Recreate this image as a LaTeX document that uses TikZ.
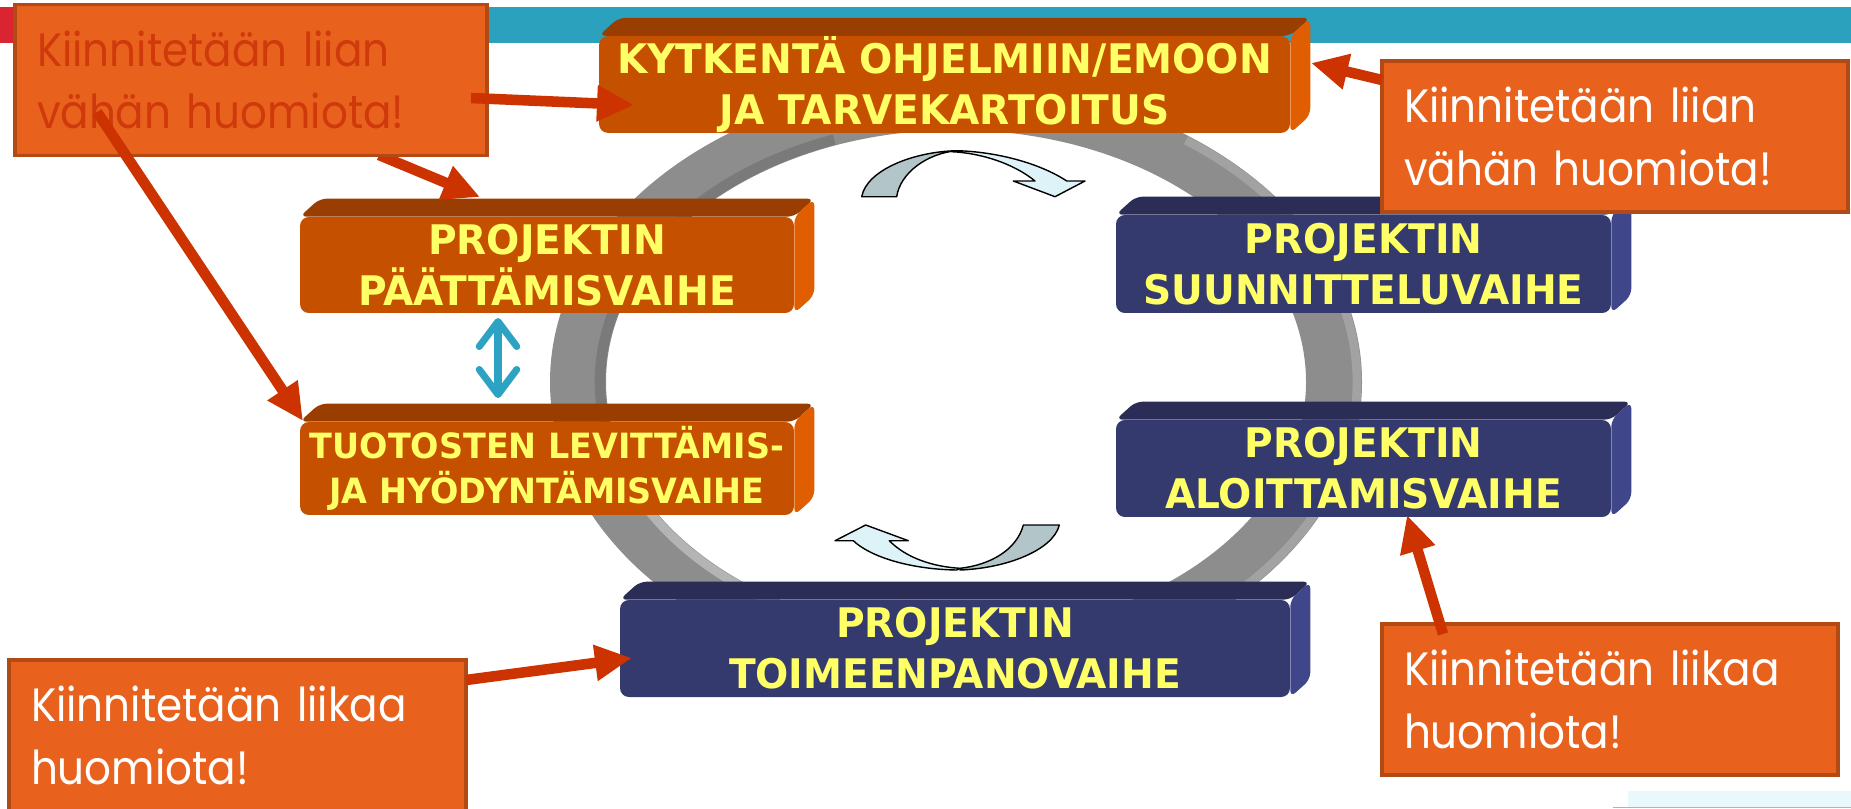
\documentclass[tikz,border=0pt]{standalone}
\usepackage{fontspec}
\usepackage{xcolor}
\usepackage{tikz}
\usetikzlibrary{arrows.meta,calc}

\newfontfamily\phasefont{DejaVu Sans}[FakeStretch=0.96]
\newfontfamily\callfont{Poppins}[FakeStretch=0.9]

\definecolor{frontor}{HTML}{C45000}
\definecolor{topor}{HTML}{993D00}
\definecolor{sideor}{HTML}{E05E00}
\definecolor{frontbl}{HTML}{353A6E}
\definecolor{topbl}{HTML}{2B2D56}
\definecolor{sidebl}{HTML}{40468A}
\definecolor{boxyellow}{HTML}{FFFF66}
\definecolor{callfill}{HTML}{E8621E}
\definecolor{callborder}{HTML}{B24A16}
\definecolor{calltext}{HTML}{D0390B}
\definecolor{arrred}{HTML}{CC3300}
\definecolor{barred}{HTML}{DB2431}
\definecolor{barteal}{HTML}{2BA1BE}
\definecolor{dblteal}{HTML}{2DA3C4}
\definecolor{ringgray}{HTML}{8D8D8D}
\definecolor{ringlight}{HTML}{B4B4B4}
\definecolor{ringedge}{HTML}{A2A2A2}
\definecolor{ringdark}{HTML}{7A7A7A}
\definecolor{backcyan}{HTML}{B2C5C9}
\definecolor{frontcyan}{HTML}{DDF3F8}
\definecolor{paleblue}{HTML}{EAF7FB}

\tikzset{
  phase/.style={rounded corners=5pt, text=boxyellow, align=center, inner sep=0pt,
    font=\phasefont\bfseries\fontsize{23.2pt}{28.9pt}\selectfont},
  orphase/.style={phase, fill=frontor},
  bluphase/.style={phase, fill=frontbl},
  callout/.style={draw=callborder, line width=2pt, fill=callfill, align=left,
    inner xsep=0.44cm, minimum height=3.02cm, text=white,
    font=\callfont\fontsize{26.6pt}{35.7pt}\selectfont},
  redarrow/.style={draw=arrred, line width=6pt, -{Triangle[length=0.74cm,width=0.68cm]}},
  dblarrow/.style={draw=dblteal, line width=4pt, line cap=round,
    {Straight Barb[round,length=0.5cm,width=0.75cm]}-{Straight Barb[round,length=0.5cm,width=0.75cm]}},
  cyclearrow/.style={draw=black, line width=0.8pt, line join=round}
}

\begin{document}
\begin{tikzpicture}[x=0.02cm, y=-0.02cm]
	\newcommand\extrude[3]{%
		\fill[#2, rounded corners=4pt] (#1.north west) -- ++(20,-18) -- ($(#1.north east)+(20,-18)$) -- (#1.north east) -- cycle;
		\fill[#3, rounded corners=4pt] (#1.north east) -- ++(20,-18) -- ($(#1.south east)+(20,-18)$) -- (#1.south east) -- cycle;}

	\useasboundingbox (0,0) rectangle (1851,808);

	% title bar
	\fill[barred] (0,7) rectangle (60,43);
	\fill[barteal] (60,7) rectangle (1851,43);
	\fill[paleblue] (1628,791) rectangle (1851,808);
	\draw[gray!60, line width=1pt] (1613,807.5) -- (1851,807.5);

	% ring
	\fill[ringgray, even odd rule] (956,382) ellipse [x radius=406, y radius=300] (956,382) ellipse [x radius=350, y radius=252];
	\draw[ringlight, line width=5pt] (956,382) ++(100:355 and 257) arc [start angle=100, end angle=165, x radius=355, y radius=257];
	\draw[ringdark, line width=6pt] (956,382) ++(170:356 and 258) arc [start angle=170, end angle=250, x radius=356, y radius=258];
	\draw[ringedge, line width=5pt] (956,382) ++(-55:401 and 295) arc [start angle=-55, end angle=45, x radius=401, y radius=295];

	% cycle arrows
	\filldraw[cyclearrow, fill=backcyan] (861.7,196.7) .. controls (866.7,170) and (913.3,151.7) .. (956.7,150.7)
		.. controls (926.7,153.3) and (900,173.3) .. (896.7,196.7) -- cycle;
	\filldraw[cyclearrow, fill=frontcyan] (956.7,150.7) .. controls (996.7,151.7) and (1040,163.3) .. (1066.7,181)
		-- (1085,181) -- (1055,196.7) -- (1013.3,181) -- (1035,181)
		.. controls (1013,163) and (980,153) .. (951.7,151.7) -- cycle;
	\filldraw[cyclearrow, fill=backcyan] (960,570) .. controls (1006.7,568.3) and (1053.3,550) .. (1059.3,525)
		-- (1023.3,525) .. controls (1016.7,550) and (990,565) .. (960,568.3) -- cycle;
	\filldraw[cyclearrow, fill=frontcyan] (956.7,570) .. controls (910,569.3) and (870,556.7) .. (853.3,540.7)
		-- (835,540.7) -- (865.7,525) -- (908.3,540.7) -- (889.3,540.7)
		.. controls (906.7,558.3) and (933.3,566.7) .. (960,568.3) -- cycle;

	% phases
	\node[orphase, minimum width=13.82cm, minimum height=1.9cm] (kytk) at (944.5,84.5) {KYTKENTÄ OHJELMIIN/EMOON\\JA TARVEKARTOITUS};
	\extrude{kytk}{topor}{sideor}
	\node[orphase, minimum width=9.88cm, minimum height=1.92cm] (paatt) at (547,265) {PROJEKTIN\\PÄÄTTÄMISVAIHE};
	\extrude{paatt}{topor}{sideor}
	\node[orphase, minimum width=9.88cm, minimum height=1.86cm, font=\phasefont\bfseries\fontsize{19.8pt}{25.5pt}\selectfont] (tuot) at (547,468.5) {TUOTOSTEN LEVITTÄMIS-\\JA HYÖDYNTÄMISVAIHE};
	\extrude{tuot}{topor}{sideor}
	\node[bluphase, minimum width=9.9cm, minimum height=1.96cm] (suun) at (1363.5,264) {PROJEKTIN\\SUUNNITTELUVAIHE};
	\extrude{suun}{topbl}{sidebl}
	\node[bluphase, minimum width=9.9cm, minimum height=1.94cm] (aloit) at (1363.5,468.5) {PROJEKTIN\\ALOITTAMISVAIHE};
	\extrude{aloit}{topbl}{sidebl}
	\node[bluphase, minimum width=13.4cm, minimum height=1.94cm] (toim) at (955,648.5) {PROJEKTIN\\TOIMEENPANOVAIHE};
	\extrude{toim}{topbl}{sidebl}

	\coordinate (dA) at (498,318);
	\coordinate (dB) at (498,398);
	\draw[dblarrow] (dA) -- (dB);

	% remarks
	\coordinate (r1s) at (471,98);   \coordinate (r1e) at (634,105);
	\coordinate (r2s) at (379,155);  \coordinate (r2e) at (480,197);
	\coordinate (r3s) at (97,112);   \coordinate (r3e) at (303,421);
	\coordinate (r4s) at (1382,80);  \coordinate (r4e) at (1311,63);
	\coordinate (r5s) at (466,680);  \coordinate (r5e) at (632,658);
	\coordinate (r6s) at (1443,634); \coordinate (r6e) at (1407,515);

	\draw[redarrow] (r2s) -- (r2e);
	\node[callout, text width=8.56cm, text=calltext] (huom1) at (251,80) {Kiinnitetään liian\\vähän huomiota!};
	\node[callout, text width=8.44cm] (huom2) at (1615,136.5) {Kiinnitetään liian\\vähän huomiota!};
	\node[callout, text width=8.26cm] (huom3) at (237.5,735.5) {Kiinnitetään liikaa\\huomiota!};
	\node[callout, text width=8.24cm] (huom4) at (1610,699.5) {Kiinnitetään liikaa\\huomiota!};

	\draw[redarrow] (r1s) -- (r1e);
	\draw[redarrow] (r3s) -- (r3e);
	\draw[redarrow] (r4s) -- (r4e);
	\draw[redarrow] (r5s) -- (r5e);
	\draw[redarrow] (r6s) -- (r6e);
\end{tikzpicture}
\end{document}
